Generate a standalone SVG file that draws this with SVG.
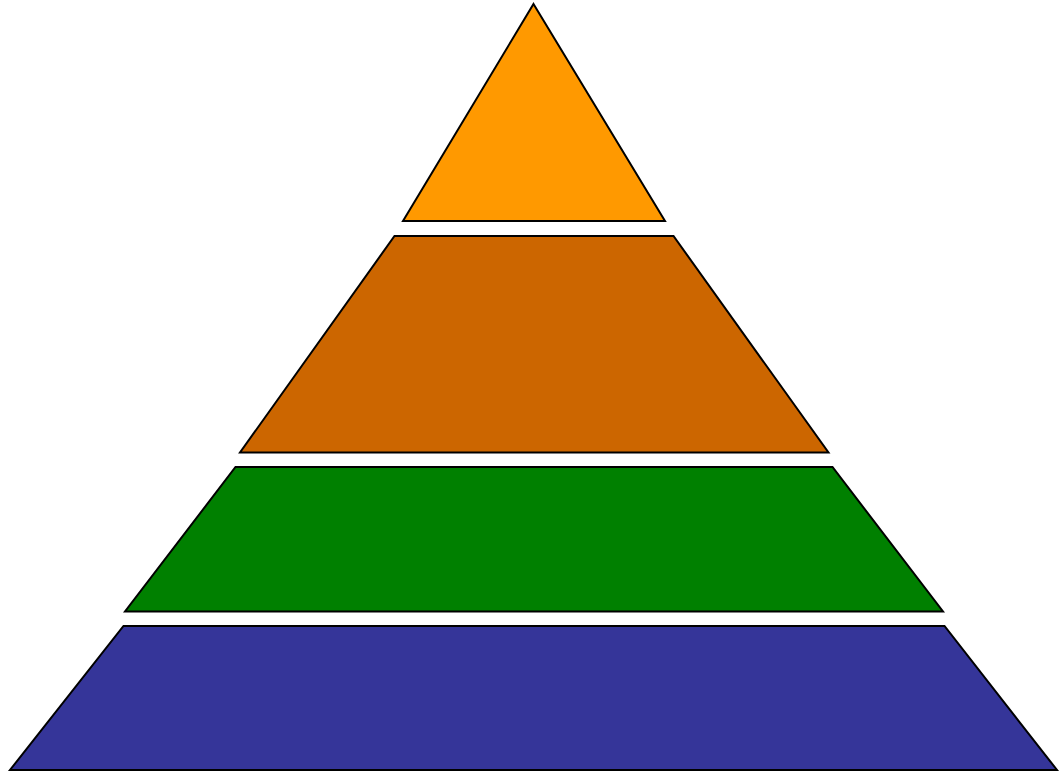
<svg xmlns="http://www.w3.org/2000/svg" width="1061" height="774" viewBox="0 0 1061 774">
<style>
.tier{stroke:#000;stroke-width:2;stroke-linejoin:miter}
</style>
<rect width="1061" height="774" fill="#fff"/>
<g id="tier1"><polygon class="tier" fill="#FF9900" points="533.5,4 665,221 403,221"/></g>
<g id="tier2"><polygon class="tier" fill="#CC6600" points="394.5,236 673.5,236 828.5,452.5 240,452.5"/></g>
<g id="tier3"><polygon class="tier" fill="#008000" points="235.5,467 832.5,467 943,611.5 125,611.5"/></g>
<g id="tier4"><polygon class="tier" fill="#353599" points="123.5,626 944.5,626 1057,770 10,770"/></g>
<g id="connectors"/>
</svg>
